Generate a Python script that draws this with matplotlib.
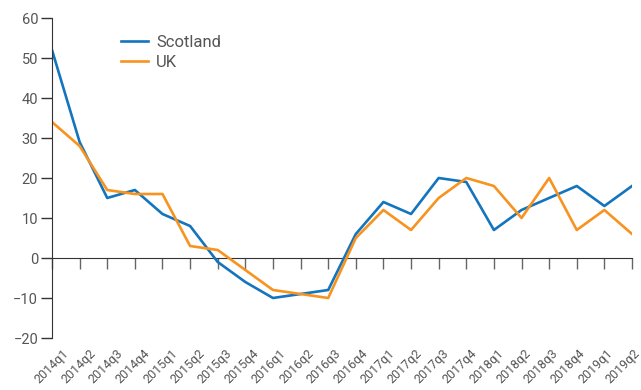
import matplotlib.pyplot as plt
import matplotlib as mpl
from matplotlib.transforms import ScaledTranslation

mpl.rcParams["font.family"] = ["Roboto", "DejaVu Sans"]

quarters = ["2014q1", "2014q2", "2014q3", "2014q4", "2015q1", "2015q2", "2015q3", "2015q4",
            "2016q1", "2016q2", "2016q3", "2016q4", "2017q1", "2017q2", "2017q3", "2017q4",
            "2018q1", "2018q2", "2018q3", "2018q4", "2019q1", "2019q2"]
scotland = [52, 29, 15, 17, 11, 8, -1, -6, -10, -9, -8, 6, 14, 11, 20, 19, 7, 12, 15, 18, 13, 18]
uk = [34, 28, 17, 16, 16, 3, 2, -3, -8, -9, -10, 5, 12, 7, 15, 20, 18, 10, 20, 7, 12, 6]

txt = "#555555"
axc = "#333333"

fig = plt.figure(figsize=(6.41, 3.9), dpi=100)
ax = fig.add_axes([52 / 641, 1 - 338 / 390, 580 / 641, 320 / 390])

x = list(range(len(quarters)))
ax.plot(x, scotland, color="#1375bd", linewidth=1.9, label="Scotland")
ax.plot(x, uk, color="#f7931e", linewidth=1.9, label="UK")

ax.set_xlim(0, len(quarters) - 1)
ax.set_ylim(-20, 60)
ax.set_yticks(range(-20, 61, 10))

for s in ["top", "right", "bottom"]:
    ax.spines[s].set_visible(False)
ax.spines["left"].set_color(axc)
ax.tick_params(axis="y", direction="out", length=8, width=1, color=axc,
               labelsize=10.5, labelcolor=txt, pad=2)

# labels along the bottom, no ticks there
ax.set_xticks(x)
ax.set_xticklabels(quarters, rotation=45, ha="right", va="top", rotation_mode="anchor",
                   fontsize=9, color=txt)
ax.tick_params(axis="x", length=0, pad=0)
n = len(quarters)
for i, lab in enumerate(ax.get_xticklabels()):
    dx = (10 - 9 * i / (n - 1)) / 100
    lab.set_transform(lab.get_transform() + ScaledTranslation(dx, -0.09, fig.dpi_scale_trans))

# zero line with ticks
zero = ax.secondary_xaxis(0.25)
zero.set_xticks(x)
zero.set_xticklabels([])
zero.spines["bottom"].set_color(axc)
zero.tick_params(direction="out", length=8, width=1, color="#666666")

leg = ax.legend(loc="upper left", bbox_to_anchor=(0.119, 0.947), frameon=False,
                fontsize=12, handlelength=1.6, handletextpad=0.5, labelspacing=0.3,
                borderaxespad=0, borderpad=0)
for t in leg.get_texts():
    t.set_color(txt)

fig.savefig("out.png", dpi=100)
